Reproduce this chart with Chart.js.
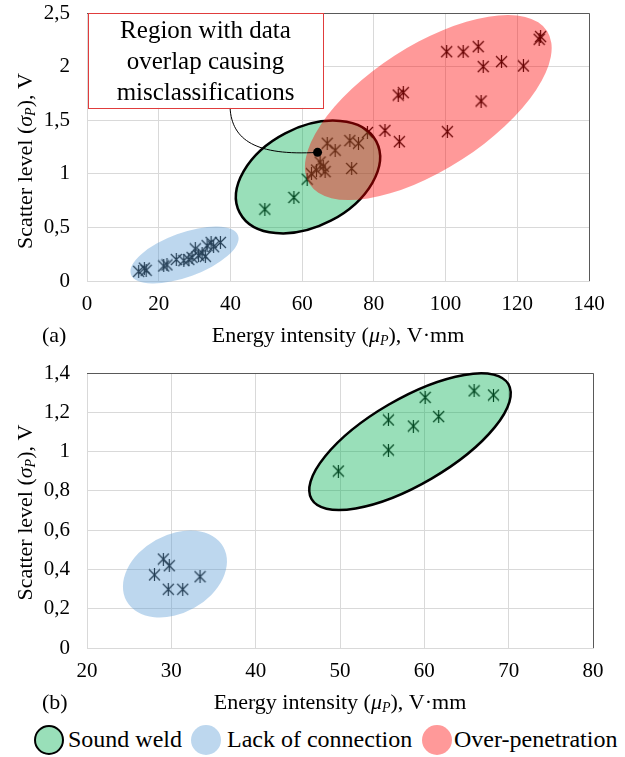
<!DOCTYPE html>
<html>
<head>
<meta charset="utf-8">
<script src="https://cdn.jsdelivr.net/npm/chart.js@4.4.1/dist/chart.umd.min.js"></script>
<style>
    body { margin: 0; background: #fff; width: 625px; height: 757px; position: relative; overflow: hidden; }
    canvas { position: absolute; left: 0; }
    #chartA { top: 0; }
    #chartB { top: 355px; }
    .legend { position: absolute; top: 724px; height: 33px; font: 24px 'Liberation Serif', serif; color: #000; }
    .legend span { position: absolute; top: 2px; white-space: nowrap; }
    .legend i { position: absolute; top: 1px; width: 30px; height: 30px; border-radius: 50%; box-sizing: border-box; }
</style>
</head>
<body>
<canvas id="chartA" width="625" height="355"></canvas>
<canvas id="chartB" width="625" height="365"></canvas>
<div class="legend" id="legend"></div>
<script>
// (a) all specimens
const lackA_x = [14.4, 16.0, 16.5, 21.4, 22.3, 24.9, 27.0, 28.4, 29.3, 30.2, 31.1, 32.1, 33.0, 33.5, 34.6, 35.3, 37.2];
const lackA_y = [0.09, 0.12, 0.10, 0.14, 0.15, 0.20, 0.19, 0.20, 0.22, 0.30, 0.24, 0.26, 0.23, 0.33, 0.36, 0.32, 0.36];
const soundA_x = [49.6, 57.7, 61.4, 62.6, 64.0, 65.9];
const soundA_y = [0.67, 0.78, 0.95, 1.00, 1.035, 1.07];
const overA_x = [66.4, 65.0, 67.0, 69.2, 73.8, 73.3, 75.7, 78.2, 83.1, 87.1, 86.8, 88.2, 100.3, 100.5, 104.9, 109.1, 110.5, 109.9, 115.6, 121.7, 126.1, 126.5];
const overA_y = [1.02, 1.11, 1.285, 1.22, 1.05, 1.31, 1.285, 1.385, 1.405, 1.30, 1.735, 1.757, 2.139, 1.393, 2.139, 2.186, 2.00, 1.679, 2.046, 2.006, 2.255, 2.28];

// (b) reduced set
const lackB_x = [28.0, 29.05, 29.76, 29.64, 31.35, 33.4];
const lackB_y = [0.372, 0.453, 0.419, 0.299, 0.299, 0.363];
const soundB_x = [49.8, 55.74, 55.74, 58.7, 60.1, 61.7, 65.9, 68.2];
const soundB_y = [0.901, 1.161, 1.008, 1.13, 1.276, 1.178, 1.309, 1.288];

const xTicksA = [0, 20, 40, 60, 80, 100, 120, 140];
const yTicksA = [0, 0.5, 1, 1.5, 2, 2.5];
const xTicksB = [20, 30, 40, 50, 60, 70, 80];
const yTicksB = [0, 0.2, 0.4, 0.6, 0.8, 1, 1.2, 1.4];

// class regions: centre, tip of major axis (data units), minor/major ratio
const regionsA = [
    { kind: 'lack', cx: 27.19, cy: 0.2425, tx: 42.12, ty: 0.4244, ratio: 0.386 },
    { kind: 'sound', cx: 61.63, cy: 0.970, tx: 80.68, ty: 1.302, ratio: 0.64 },
    { kind: 'over', cx: 95.18, cy: 1.618, tx: 128.3, ty: 2.332, ratio: 0.438 },
];
const regionsB = [
    { kind: 'lack', cx: 30.43, cy: 0.3768, tx: 36.17, ty: 0.5144, ratio: 0.704 },
    { kind: 'sound', cx: 58.30, cy: 1.0504, tx: 69.97, ty: 1.343, ratio: 0.375 },
];

const calloutLines = ['Region with data', 'overlap causing', 'misclassifications'];
const calloutPoint = { x: 64.3, y: 1.2 };

const classLabels = { sound: 'Sound weld', lack: 'Lack of connection', over: 'Over-penetration' };
const classFill = { sound: 'rgba(0,176,80,0.4)', lack: 'rgba(91,155,213,0.4)', over: 'rgba(255,0,0,0.4)' };

const xTitle = [{ t: 'Energy intensity (' }, { t: 'μ', i: true }, { t: 'P', i: true, sub: true }, { t: '), V·mm' }];
const yTitle = [{ t: 'Scatter level (' }, { t: 'σ', i: true }, { t: 'P', i: true, sub: true }, { t: '), V' }];

const FONT = "'Liberation Serif', serif";
Chart.defaults.font.family = FONT;
Chart.defaults.color = '#000';

function makeStar(size) {
    let c = document.createElement('canvas');
    c.width = c.height = size;
    let g = c.getContext('2d');
    g.strokeStyle = '#000';
    g.lineWidth = 1.2;
    g.beginPath();
    g.moveTo(1, 1); g.lineTo(size - 1, size - 1);
    g.moveTo(size - 1, 1); g.lineTo(1, size - 1);
    g.moveTo(size / 2, 0); g.lineTo(size / 2, size);
    g.stroke();
    return c;
}
const star = makeStar(13);

function pts(xs, ys) {
    return xs.map((v, i) => ({ x: v, y: ys[i] }));
}

function richText(ctx, parts, size) {
    let fontOf = p => (p.i ? 'italic ' : '') + (p.sub ? Math.round(size * 0.65) : size) + 'px ' + FONT;
    let total = 0;
    parts.forEach(p => { ctx.font = fontOf(p); total += ctx.measureText(p.t).width; });
    let x = -total / 2;
    ctx.textBaseline = 'middle';
    ctx.textAlign = 'left';
    parts.forEach(p => {
        ctx.font = fontOf(p);
        ctx.fillText(p.t, x, p.sub ? size * 0.22 : 0);
        x += ctx.measureText(p.t).width;
    });
}

const decor = {
    id: 'decor',
    beforeDatasetsDraw(chart) {
        let { ctx, chartArea: a } = chart;
        ctx.save();
        ctx.strokeStyle = '#595959';
        ctx.lineWidth = 1;
        ctx.beginPath();
        ctx.moveTo(a.left, a.top + 0.5); ctx.lineTo(a.right + 0.5, a.top + 0.5); ctx.lineTo(a.right + 0.5, a.bottom);
        ctx.stroke();
        ctx.restore();
    },
    afterDatasetsDraw(chart, args, opts) {
        let { ctx, scales: { x, y } } = chart;
        ctx.save();
        opts.regions.forEach(e => {
            let cx = x.getPixelForValue(e.cx), cy = y.getPixelForValue(e.cy);
            let tx = x.getPixelForValue(e.tx), ty = y.getPixelForValue(e.ty);
            let r = Math.hypot(tx - cx, ty - cy);
            ctx.beginPath();
            ctx.ellipse(cx, cy, r, r * e.ratio, Math.atan2(ty - cy, tx - cx), 0, 2 * Math.PI);
            ctx.fillStyle = classFill[e.kind];
            ctx.fill();
            if (e.kind === 'sound') {
                ctx.lineWidth = 2.5;
                ctx.strokeStyle = '#000';
                ctx.stroke();
            }
        });
        if (opts.callout) {
            let c = opts.callout;
            let px = x.getPixelForValue(c.point.x), py = y.getPixelForValue(c.point.y);
            let l = x.getPixelForValue(c.box[0]), r = x.getPixelForValue(c.box[1]);
            let t = y.getPixelForValue(c.box[2]), b = y.getPixelForValue(c.box[3]);
            ctx.strokeStyle = '#000';
            ctx.lineWidth = 1;
            ctx.beginPath();
            ctx.moveTo(x.getPixelForValue(c.start[0]), b);
            ctx.bezierCurveTo(x.getPixelForValue(c.cp1[0]), y.getPixelForValue(c.cp1[1]),
                x.getPixelForValue(c.cp2[0]), y.getPixelForValue(c.cp2[1]), px, py);
            ctx.stroke();
            ctx.beginPath();
            ctx.arc(px, py, 4.5, 0, 2 * Math.PI);
            ctx.fillStyle = '#000';
            ctx.fill();
            ctx.fillStyle = '#fff';
            ctx.fillRect(l, t, r - l, b - t);
            ctx.strokeStyle = '#e03c3c';
            ctx.strokeRect(Math.round(l) + 0.5, Math.round(t) + 0.5, Math.round(r - l), Math.round(b - t));
            ctx.fillStyle = '#000';
            ctx.font = '25px ' + FONT;
            ctx.textAlign = 'center';
            ctx.textBaseline = 'middle';
            c.lines.forEach((s, i) => ctx.fillText(s, (l + r) / 2, t + 18 + i * 31));
        }
        ctx.restore();
    },
    afterDraw(chart, args, opts) {
        let { ctx, chartArea: a } = chart;
        ctx.save();
        ctx.fillStyle = '#000';
        ctx.translate((a.left + a.right) / 2, a.bottom + 55);
        richText(ctx, xTitle, 22);
        ctx.restore();
        ctx.save();
        ctx.fillStyle = '#000';
        ctx.font = '22px ' + FONT;
        ctx.textBaseline = 'middle';
        ctx.fillText(opts.panel, 42, a.bottom + 55);
        ctx.translate(26, (a.top + a.bottom) / 2 + opts.yTitleShift);
        ctx.rotate(-Math.PI / 2);
        richText(ctx, yTitle, 22);
        ctx.restore();
    }
};

function scatterSet(label, data) {
    return { label: label, data: data, pointStyle: star, pointRadius: 6, pointHoverRadius: 6, showLine: false };
}

function makeChart(id, datasets, xr, yr, pad, bottomH, decorOpts) {
    let fmt = v => String(Number(v.toFixed(1))).replace('.', ',');
    return new Chart(document.getElementById(id), {
        type: 'scatter',
        data: { datasets: datasets },
        plugins: [decor],
        options: {
            responsive: false,
            animation: false,
            events: [],
            layout: { padding: pad },
            plugins: { legend: { display: false }, tooltip: { enabled: false }, decor: decorOpts },
            scales: {
                x: {
                    min: xr[0], max: xr[1],
                    afterFit: s => { s.height = bottomH; s.paddingLeft = 0; s.paddingRight = 0; },
                    afterBuildTicks: s => { s.ticks = xr[2].map(v => ({ value: v })); },
                    grid: { color: '#d9d9d9', drawTicks: false },
                    border: { color: '#d9d9d9' },
                    ticks: { padding: 11, font: { size: 21 }, maxRotation: 0, callback: fmt },
                },
                y: {
                    min: yr[0], max: yr[1],
                    afterFit: s => { s.width = 87; s.paddingTop = 0; s.paddingBottom = 0; },
                    afterBuildTicks: s => { s.ticks = yr[2].map(v => ({ value: v })); },
                    grid: { color: '#d9d9d9', drawTicks: false },
                    border: { color: '#d9d9d9' },
                    ticks: { padding: 17, font: { size: 21 }, callback: fmt },
                }
            }
        }
    });
}

makeChart('chartA', [
    scatterSet(classLabels.lack, pts(lackA_x, lackA_y)),
    scatterSet(classLabels.sound, pts(soundA_x, soundA_y)),
    scatterSet(classLabels.over, pts(overA_x, overA_y)),
], [0, 140, xTicksA], [0, 2.5, yTicksA], { top: 13, right: 36, left: 0, bottom: 0 }, 74, {
    panel: '(a)',
    yTitleShift: 14,
    regions: regionsA,
    callout: {
        lines: calloutLines, point: calloutPoint,
        box: [0.3, 65.8, 2.5, 1.615],
        start: [39.9], cp1: [40.4, 1.315], cp2: [47.1, 1.166],
    }
});

makeChart('chartB', [
    scatterSet(classLabels.lack, pts(lackB_x, lackB_y)),
    scatterSet(classLabels.sound, pts(soundB_x, soundB_y)),
], [20, 80, xTicksB], [0, 1.4, yTicksB], { top: 18, right: 32, left: 0, bottom: 0 }, 72, {
    panel: '(b)',
    yTitleShift: 2,
    regions: regionsB,
});

// legend row
const legendPos = { sound: [34, 68], lack: [191, 227], over: [422, 454] };
const legend = document.getElementById('legend');
['sound', 'lack', 'over'].forEach(k => {
    let mark = document.createElement('i');
    mark.style.left = legendPos[k][0] + 'px';
    mark.style.background = classFill[k];
    if (k === 'sound') mark.style.border = '2px solid #000';
    let txt = document.createElement('span');
    txt.style.left = legendPos[k][1] + 'px';
    txt.textContent = classLabels[k];
    legend.appendChild(mark);
    legend.appendChild(txt);
});
</script>
</body>
</html>
